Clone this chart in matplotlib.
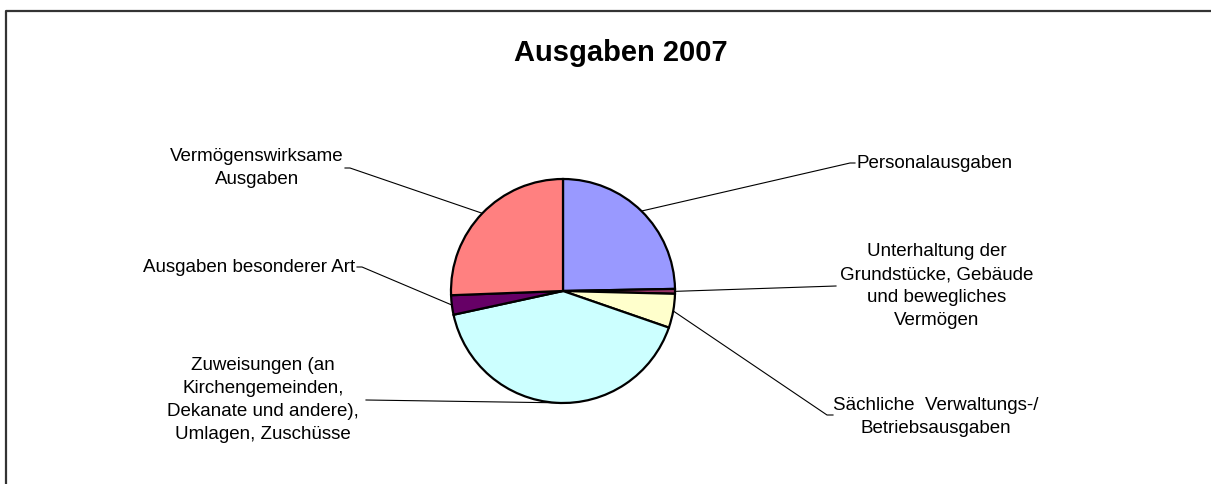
import matplotlib
matplotlib.use("Agg")
import matplotlib.pyplot as plt
import numpy as np

W, H = 1211, 484

categories = [
    "Personalausgaben",
    "Unterhaltung der\nGrundstücke, Gebäude\nund bewegliches\nVermögen",
    "Sächliche  Verwaltungs-/\nBetriebsausgaben",
    "Zuweisungen (an\nKirchengemeinden,\nDekanate und andere),\nUmlagen, Zuschüsse",
    "Ausgaben besonderer Art",
    "Vermögenswirksame\nAusgaben",
]
values = [24.7, 0.7, 4.9, 41.3, 2.8, 25.6]
colors = ["#9999FF", "#993366", "#FFFFCC", "#CCFFFF", "#660066", "#FF8080"]

# label layout in pixels from top-left: text x, text y, alignment, leader points (elbows)
label_pos = [
    (857, 163, "left", [(850, 163), (855, 163)]),
    (937, 286, "center", [(836, 286)]),
    (936, 417, "center", [(827, 415), (833, 415)]),
    (263, 400, "center", [(366, 400)]),
    (355, 267, "right", [(362, 267), (357, 267)]),
    (257, 168, "center", [(350, 168), (345, 168)]),
]

plt.rcParams["font.family"] = ["Liberation Sans", "DejaVu Sans"]

fig = plt.figure(figsize=(W / 100, H / 100), dpi=100)
ax = fig.add_axes([0, 0, 1, 1])

cx, cy, r = 563, 291, 112
wedges, _ = ax.pie(values, colors=colors, startangle=90, counterclock=False,
                   center=(cx, H - cy), radius=r,
                   wedgeprops=dict(edgecolor="black", linewidth=1.6))

ax.set_xlim(0, W)
ax.set_ylim(0, H)
ax.set_aspect("equal")
ax.axis("off")

for w, label, (tx, ty, ha, elbows) in zip(wedges, categories, label_pos):
    th = np.deg2rad((w.theta1 + w.theta2) / 2)
    ax_pt = (cx + r * np.cos(th), H - cy + r * np.sin(th))
    xs = [ax_pt[0]] + [p[0] for p in elbows]
    ys = [ax_pt[1]] + [H - p[1] for p in elbows]
    ax.plot(xs, ys, color="black", lw=0.8, zorder=0.5)
    ax.text(tx, H - ty, label, ha=ha, va="center", multialignment="center",
            fontsize=13.5, linespacing=1.45)

ax.text(621, H - 53, "Ausgaben 2007", ha="center", va="center",
        fontsize=21, fontweight="bold")

# chart frame (right and bottom edges fall outside the picture)
ax.plot([6, 6, W + 5], [-5, H - 11, H - 11], color="#333333", lw=1.6,
        clip_on=False)

fig.savefig("out.png", dpi=100)
